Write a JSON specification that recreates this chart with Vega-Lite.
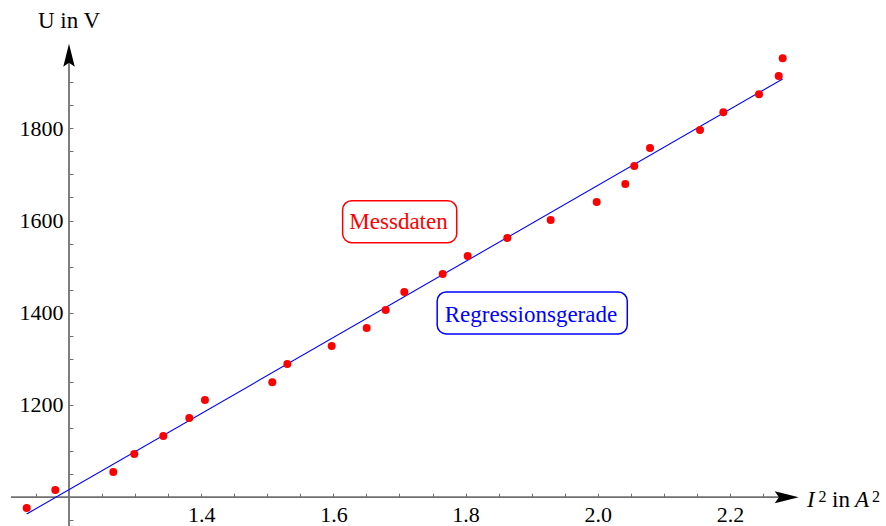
{
  "$schema": "https://vega.github.io/schema/vega-lite/v6.json",
  "width": 886,
  "height": 526,
  "autosize": {"type": "none"},
  "padding": 0,
  "background": "white",
  "config": {"view": {"stroke": null}},
  "datasets": {
    "points": [
      {"x": 1.1360, "y": 976.6}, {"x": 1.1793, "y": 1015.6}, {"x": 1.2670, "y": 1054.6},
      {"x": 1.2988, "y": 1093.7}, {"x": 1.3427, "y": 1132.7}, {"x": 1.3820, "y": 1171.8},
      {"x": 1.4057, "y": 1210.8}, {"x": 1.5076, "y": 1249.2}, {"x": 1.5303, "y": 1288.9},
      {"x": 1.5974, "y": 1327.9}, {"x": 1.6504, "y": 1366.9}, {"x": 1.6791, "y": 1406.0},
      {"x": 1.7073, "y": 1445.0}, {"x": 1.7653, "y": 1484.1}, {"x": 1.8032, "y": 1523.1},
      {"x": 1.8631, "y": 1562.2}, {"x": 1.9287, "y": 1601.2}, {"x": 1.9983, "y": 1640.3},
      {"x": 2.0416, "y": 1679.3}, {"x": 2.0552, "y": 1718.4}, {"x": 2.0790, "y": 1757.4},
      {"x": 2.1546, "y": 1796.4}, {"x": 2.1899, "y": 1834.7}, {"x": 2.2439, "y": 1873.8},
      {"x": 2.2737, "y": 1913.5}, {"x": 2.2797, "y": 1951.9}
    ],
    "fit": [{"x": 1.136, "y": 963.6}, {"x": 2.2797, "y": 1907.0}],
    "xaxisline": [{"x": 1.1123, "x2": 2.2858, "y": 1000}],
    "yaxisline": [{"x": 1.2, "y": 937.54, "y2": 1958.4}],
    "xarrow": [{"x": 2.2858, "y": 1000}],
    "yarrow": [{"x": 1.2, "y": 1958.4}],
    "boxes": [
      {"x": 1.614, "x2": 1.7866, "y": 1552, "y2": 1643, "c": "red"},
      {"x": 1.757, "x2": 2.0446, "y": 1354, "y2": 1445, "c": "blue"}
    ],
    "labels": [
      {"x": 1.6985, "y": 1581, "t": "Messdaten", "c": "red"},
      {"x": 1.8989, "y": 1380.6, "t": "Regressionsgerade", "c": "blue"}
    ],
    "ytitle": [{"x": 1.2, "y": 2017.6, "t": "U in V"}],
    "xtitleItalic": [{"x": 2.3165, "y": 978.1, "t": "I"}, {"x": 2.3890, "y": 978.1, "t": "A"}],
    "xtitleRoman": [{"x": 2.3545, "y": 978.1, "t": "in"}],
    "xtitleSup": [{"x": 2.3340, "y": 990.2, "t": "2"}, {"x": 2.4150, "y": 990.2, "t": "2"}]
  },
  "encoding": {
    "x": {
      "field": "x", "type": "quantitative",
      "scale": {"domain": [1.09561, 2.43601], "nice": false, "zero": false},
      "axis": {
        "orient": "bottom", "offset": -28.8, "domain": false, "grid": false, "title": null,
        "values": [1.15, 1.25, 1.3, 1.35, 1.4, 1.45, 1.5, 1.55, 1.6, 1.65, 1.7, 1.75, 1.8, 1.85, 1.9, 1.95, 2.0, 2.05, 2.1, 2.15, 2.2, 2.25],
        "labelExpr": "abs(datum.value*5 - round(datum.value*5)) < 0.001 ? format(datum.value, '.1f') : ''",
        "tickSize": -4, "tickColor": "#707070", "tickWidth": 1,
        "labelFont": "Liberation Serif", "labelFontSize": 22, "labelColor": "black",
        "labelPadding": 11, "labelFlush": false, "labelOverlap": false
      }
    },
    "y": {
      "field": "y", "type": "quantitative",
      "scale": {"domain": [937.54, 2078.29], "nice": false, "zero": false},
      "axis": {
        "orient": "left", "offset": -69, "domain": false, "grid": false, "title": null,
        "values": [950, 1050, 1100, 1150, 1200, 1250, 1300, 1350, 1400, 1450, 1500, 1550, 1600, 1650, 1700, 1750, 1800, 1850, 1900],
        "labelExpr": "datum.value % 200 == 0 ? '' + datum.value : ''",
        "tickSize": -4, "tickColor": "#707070", "tickWidth": 1,
        "labelFont": "Liberation Serif", "labelFontSize": 22, "labelColor": "black",
        "labelPadding": 10, "labelFlush": false, "labelOverlap": false
      }
    }
  },
  "layer": [
    {
      "data": {"name": "xaxisline"},
      "mark": {"type": "rule", "color": "#707070", "strokeWidth": 1.8},
      "encoding": {"x2": {"field": "x2"}}
    },
    {
      "data": {"name": "yaxisline"},
      "mark": {"type": "rule", "color": "#707070", "strokeWidth": 1.8},
      "encoding": {"y2": {"field": "y2"}}
    },
    {
      "data": {"name": "xarrow"},
      "mark": {"type": "point", "shape": "M1,0L-1,-0.5L-0.65,0L-1,0.5Z", "size": 576, "filled": true, "color": "black", "opacity": 1, "strokeWidth": 0}
    },
    {
      "data": {"name": "yarrow"},
      "mark": {"type": "point", "shape": "M0,-1L0.5,1L0,0.65L-0.5,1Z", "size": 529, "filled": true, "color": "black", "opacity": 1, "strokeWidth": 0}
    },
    {
      "data": {"name": "fit"},
      "mark": {"type": "line", "color": "#0000ff", "strokeWidth": 1.1}
    },
    {
      "data": {"name": "points"},
      "mark": {"type": "circle", "color": "#ff0000", "size": 64, "opacity": 1}
    },
    {
      "data": {"name": "boxes"},
      "mark": {"type": "rect", "fill": "white", "strokeWidth": 1.5, "cornerRadius": 9},
      "encoding": {
        "x2": {"field": "x2"}, "y2": {"field": "y2"},
        "stroke": {"field": "c", "type": "nominal", "scale": null}
      }
    },
    {
      "data": {"name": "labels"},
      "mark": {"type": "text", "font": "Liberation Serif", "fontSize": 23, "align": "center", "baseline": "alphabetic"},
      "encoding": {
        "text": {"field": "t"},
        "color": {"field": "c", "type": "nominal", "scale": null}
      }
    },
    {
      "data": {"name": "ytitle"},
      "mark": {"type": "text", "font": "Liberation Serif", "fontSize": 23, "align": "center", "baseline": "alphabetic", "color": "black"},
      "encoding": {"text": {"field": "t"}}
    },
    {
      "data": {"name": "xtitleItalic"},
      "mark": {"type": "text", "font": "Liberation Serif", "fontStyle": "italic", "fontSize": 23, "align": "left", "baseline": "alphabetic", "color": "black"},
      "encoding": {"text": {"field": "t"}}
    },
    {
      "data": {"name": "xtitleRoman"},
      "mark": {"type": "text", "font": "Liberation Serif", "fontSize": 23, "align": "left", "baseline": "alphabetic", "color": "black"},
      "encoding": {"text": {"field": "t"}}
    },
    {
      "data": {"name": "xtitleSup"},
      "mark": {"type": "text", "font": "Liberation Serif", "fontSize": 16, "align": "left", "baseline": "alphabetic", "color": "black"},
      "encoding": {"text": {"field": "t"}}
    }
  ]
}
